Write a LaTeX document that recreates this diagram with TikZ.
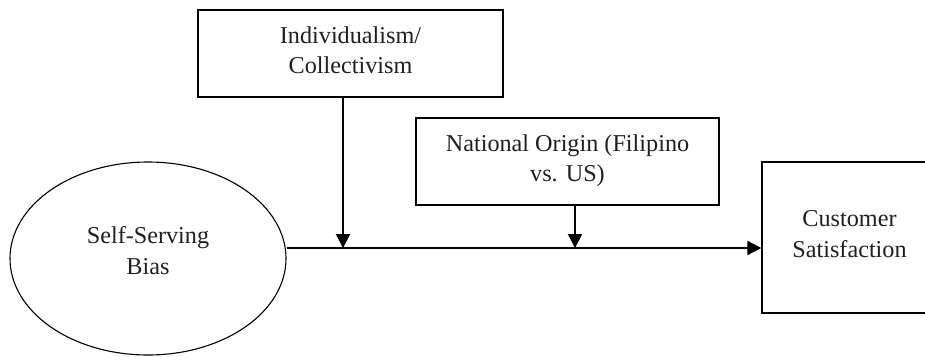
\documentclass[tikz,border=0pt]{standalone}
\usepackage{fontspec}
\setmainfont{Liberation Serif}
\usetikzlibrary{positioning, shapes.geometric, arrows.meta}

\begin{document}
\begin{tikzpicture}[
    x=1pt, y=-1pt,
    factor/.style={rectangle, draw, line width=1.3pt, align=center, inner sep=0pt, text depth=7pt, text=black!88, font=\fontsize{24.2}{30.5}\selectfont},
    construct/.style={ellipse, draw, line width=1.1pt, align=center, inner sep=0pt, text depth=16pt, text=black!88, font=\fontsize{24.2}{30.5}\selectfont},
    effect/.style={-{Triangle[width=14pt, length=14pt]}, line width=2pt}
]
\useasboundingbox (0,0) rectangle (925,356);

% Independent variable
\node[construct, minimum width=276pt, minimum height=193pt] (bias) at (148,258.5) {Self-Serving\\Bias};

% Moderators
\node[factor, minimum width=305pt, minimum height=87pt] (indiv) at (350.5,53.5) {Individualism/\\Collectivism};
\node[factor, minimum width=303pt, minimum height=87pt] (origin) at (567.5,161.5) {National Origin (Filipino\\vs. US)};

% Outcome
\node[factor, minimum width=175pt, minimum height=151pt] (satis) at (849.5,237.5) {Customer\\Satisfaction};

% Points where the moderators meet the main path
\coordinate (m1) at (343,248);
\coordinate (m2) at (575,248);

% Edges
\draw[effect] (bias.east |- m1) -- (satis.west |- m1);
\draw[effect] (indiv.south -| m1) -- (m1);
\draw[effect] (origin.south -| m2) -- (m2);

\end{tikzpicture}
\end{document}
